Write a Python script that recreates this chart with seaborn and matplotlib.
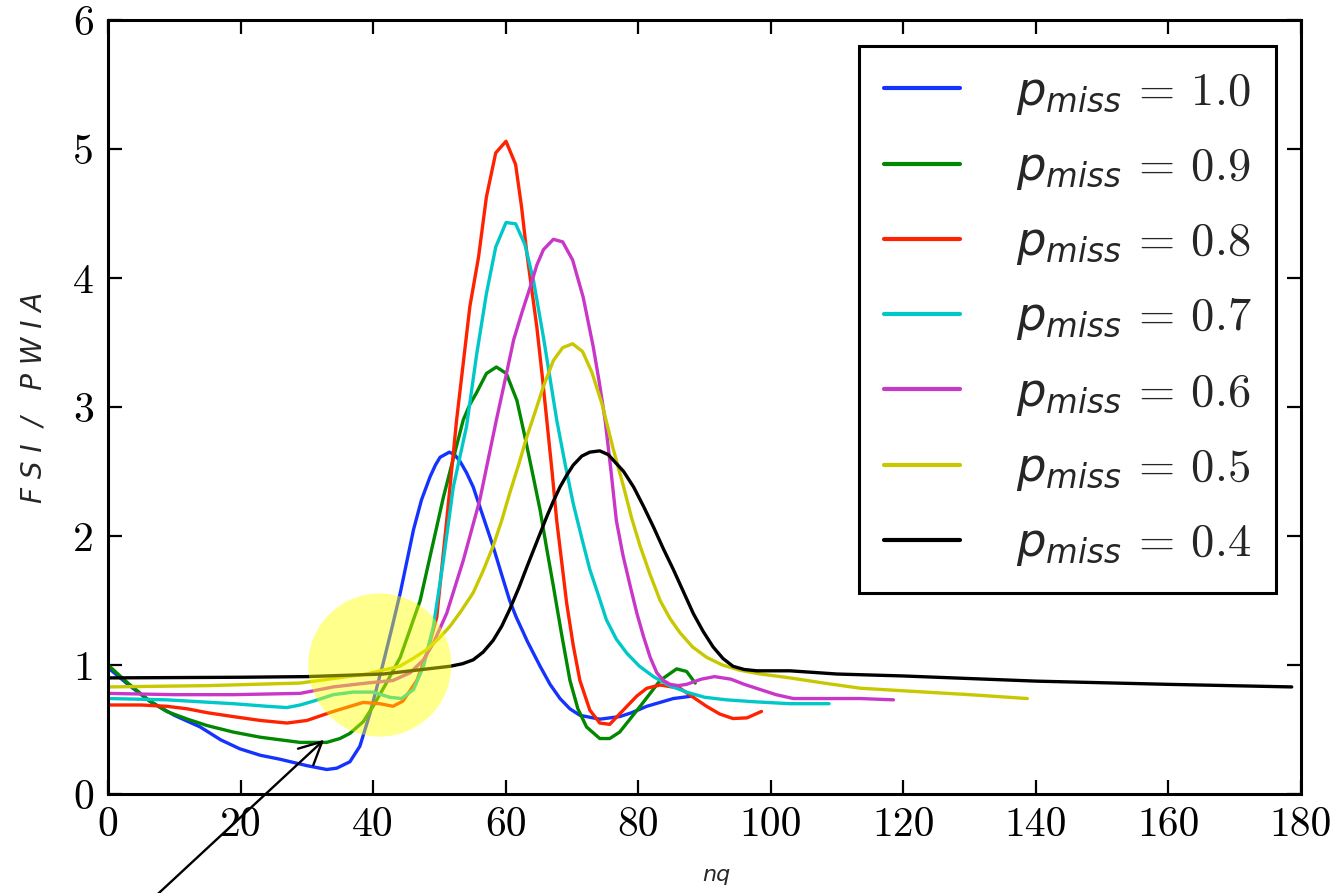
import numpy as np
import pandas as pd
import matplotlib
matplotlib.use("Agg")
import matplotlib.pyplot as plt
from matplotlib.patches import Ellipse
import seaborn as sns

# ---------------- data ----------------
labels = ["1.0", "0.9", "0.8", "0.7", "0.6", "0.5", "0.4"]
colors = ["#1533ff", "#008800", "#ff2200", "#00c8c8", "#c837c8", "#c8c800", "#000000"]

x_10 = [0, 3, 6.3, 10, 13.9, 17, 19.9, 23, 25.9, 30, 33, 34.5, 36.5, 38, 39.5, 41.5, 42.8, 44.1,
        46.1, 47.3, 48.6, 49.4, 50.1, 51.5, 52.3, 53.1, 54.1, 55.1, 56.6, 58.1, 59.4, 60.6, 61.6,
        62.5, 63.3, 64.2, 65.2, 66.7, 68.2, 69.7, 71.2, 74.2, 77.2, 79, 81.3, 83.3, 85.3, 88.3]
y_10 = [0.98, 0.85, 0.72, 0.61, 0.52, 0.42, 0.35, 0.30, 0.27, 0.22, 0.19, 0.20, 0.25, 0.37, 0.62,
        1.01, 1.28, 1.56, 2.05, 2.28, 2.46, 2.55, 2.61, 2.65, 2.63, 2.58, 2.49, 2.38, 2.15, 1.92,
        1.70, 1.50, 1.37, 1.27, 1.18, 1.09, 0.99, 0.85, 0.74, 0.66, 0.61, 0.58, 0.60, 0.63, 0.68,
        0.71, 0.74, 0.76]

x_09 = [0, 3, 6.3, 8.85, 12, 15, 18.9, 23, 26, 29, 33, 35, 36.5, 38.5, 40, 42, 44.1, 47.1, 50.6,
        53.6, 54.6, 55.6, 57.1, 58.6, 60.1, 61.7, 62.9, 64, 65.2, 66.2, 67.2, 68.4, 69.7, 70.9,
        72.2, 74.2, 75.7, 77.2, 80.3, 83.3, 85.8, 87.3, 88.6]
y_09 = [1.00, 0.86, 0.72, 0.64, 0.58, 0.53, 0.48, 0.44, 0.42, 0.40, 0.40, 0.43, 0.47, 0.56, 0.68,
        0.86, 1.06, 1.50, 2.30, 2.90, 3.02, 3.11, 3.26, 3.31, 3.26, 3.05, 2.77, 2.50, 2.20, 1.90,
        1.61, 1.25, 0.88, 0.66, 0.52, 0.43, 0.43, 0.48, 0.68, 0.88, 0.97, 0.95, 0.86]

x_08 = [0, 5, 8.85, 12, 15, 18.9, 23, 27, 30, 34, 38.5, 41, 43, 44.5, 46.6, 48.1, 49.6, 51.1, 52.6,
        54.6, 55.9, 57.1, 58.5, 60.05, 61.5, 62.4, 63.2, 64.7, 65.5, 66.2, 67, 67.7, 68.5, 69.2,
        70.2, 71.2, 72.7, 74.2, 75.7, 78.3, 79.8, 81.3, 83.3, 86.3, 88.3, 90.3, 92.3, 94.3, 96.4,
        98.6]
y_08 = [0.69, 0.69, 0.68, 0.66, 0.63, 0.60, 0.57, 0.55, 0.57, 0.64, 0.71, 0.70, 0.68, 0.72, 0.88,
        1.09, 1.37, 2.12, 2.90, 3.78, 4.16, 4.63, 4.97, 5.06, 4.88, 4.55, 4.19, 3.62, 3.25, 2.90,
        2.50, 2.12, 1.78, 1.48, 1.15, 0.88, 0.65, 0.55, 0.54, 0.68, 0.76, 0.82, 0.845, 0.82, 0.75,
        0.68, 0.62, 0.585, 0.59, 0.64]

x_07 = [0, 8.85, 18.9, 24, 27, 29, 31, 34, 37, 40, 42.5, 44.3, 46.1, 47.6, 49.1, 50.6, 52.1, 54.1,
        55.6, 57.1, 58.5, 60.05, 61.5, 62.9, 64.2, 65.7, 67.7, 69, 70.2, 71.5, 72.7, 74, 75.2, 76.7,
        78.3, 80.2, 82.3, 84.7, 87.3, 90, 93.3, 97.5, 102.9, 108.8]
y_07 = [0.74, 0.73, 0.70, 0.68, 0.67, 0.69, 0.72, 0.77, 0.79, 0.79, 0.75, 0.74, 0.81, 0.99, 1.30,
        1.81, 2.38, 2.85, 3.40, 3.88, 4.24, 4.43, 4.42, 4.26, 3.98, 3.54, 2.90, 2.55, 2.25, 1.98,
        1.74, 1.54, 1.35, 1.20, 1.09, 0.99, 0.91, 0.84, 0.79, 0.75, 0.73, 0.715, 0.70, 0.70]

x_06 = [0, 10, 18.9, 29, 34, 39, 43, 45.6, 47.6, 49.1, 51.1, 53.6, 56.1, 58.6, 60, 61.2, 62.5, 63.7,
        64.7, 65.7, 67.2, 68.6, 70.1, 71.7, 73.2, 74.1, 75, 75.9, 76.7, 77.7, 78.8, 79.8, 80.8,
        81.8, 82.8, 83.8, 84.8, 86, 87.3, 89.5, 91.5, 94, 96, 98.4, 100.8, 103.4, 108, 113.5, 118.5]
y_06 = [0.78, 0.77, 0.77, 0.78, 0.83, 0.86, 0.88, 0.94, 1.04, 1.17, 1.40, 1.81, 2.28, 2.90, 3.23,
        3.52, 3.74, 3.93, 4.10, 4.22, 4.30, 4.28, 4.14, 3.85, 3.47, 3.20, 2.90, 2.50, 2.12, 1.85,
        1.61, 1.40, 1.22, 1.06, 0.94, 0.88, 0.85, 0.84, 0.85, 0.89, 0.91, 0.89, 0.85, 0.81, 0.77,
        0.74, 0.74, 0.74, 0.73]

x_05 = [0, 15, 29, 39, 44, 46, 48.1, 50, 51.6, 53.3, 55.1, 56.6, 58.1, 59.4, 60.6, 62, 63.2, 64.5,
        65.7, 67.2, 68.6, 70.1, 71.6, 73, 74.5, 76.2, 77.8, 79, 80.3, 81.8, 83.3, 84.8, 86.3, 88.2,
        90.3, 92.7, 95.3, 98.5, 102.9, 108, 113.5, 120, 130, 138.7]
y_05 = [0.83, 0.84, 0.86, 0.93, 0.99, 1.05, 1.12, 1.21, 1.30, 1.42, 1.56, 1.73, 1.92, 2.12, 2.33,
        2.56, 2.77, 2.97, 3.16, 3.36, 3.46, 3.49, 3.43, 3.27, 3.03, 2.68, 2.38, 2.14, 1.92, 1.70,
        1.50, 1.36, 1.25, 1.14, 1.06, 1.00, 0.96, 0.93, 0.90, 0.86, 0.82, 0.80, 0.77, 0.74]

x_04 = [0, 20, 30, 41.5, 51.6, 53.5, 55.1, 56.6, 58.1, 59.4, 60.6, 62, 63.2, 64.2, 65.2, 66.2,
        67.2, 68.2, 69.2, 70.2, 71.5, 72.7, 74.2, 75.5, 76.2, 77.8, 79.3, 80.8, 82.3, 83.8, 85.3,
        86.8, 88.3, 89.8, 91.3, 92.8, 94.3, 96, 97.9, 102.9, 110, 120, 140, 160, 178.6]
y_04 = [0.90, 0.905, 0.91, 0.93, 0.99, 1.01, 1.04, 1.10, 1.19, 1.30, 1.43, 1.60, 1.76, 1.89, 2.02,
        2.15, 2.27, 2.38, 2.47, 2.55, 2.62, 2.65, 2.66, 2.63, 2.59, 2.50, 2.38, 2.23, 2.07, 1.90,
        1.74, 1.57, 1.40, 1.26, 1.14, 1.05, 0.99, 0.965, 0.955, 0.955, 0.93, 0.915, 0.875, 0.85,
        0.83]

xs = [x_10, x_09, x_08, x_07, x_06, x_05, x_04]
ys = [y_10, y_09, y_08, y_07, y_06, y_05, y_04]

x_ticks = [0, 20, 40, 60, 80, 100, 120, 140, 160, 180]
y_ticks = [0, 1, 2, 3, 4, 5, 6]

# ---------------- style ----------------
sns.set_style("ticks")
plt.rcParams["font.family"] = ["cmr10", "DejaVu Sans"]
plt.rcParams["axes.formatter.use_mathtext"] = True
plt.rcParams["mathtext.fontset"] = "custom"
plt.rcParams["mathtext.rm"] = "cmr10"
plt.rcParams["mathtext.it"] = "DejaVu Sans:italic"
plt.rcParams["mathtext.bf"] = "DejaVu Sans:bold"
plt.rcParams["mathtext.sf"] = "DejaVu Sans"

fig = plt.figure(figsize=(13.44, 8.93), dpi=100)
ax = fig.add_axes([108 / 1344, 99 / 893, 1193 / 1344, 774 / 893])

for xv, yv, c, lab in zip(xs, ys, colors, labels):
    df = pd.DataFrame({"nq": xv, "ratio": yv})
    sns.lineplot(data=df, x="nq", y="ratio", color=c, lw=2.4, sort=False,
                 estimator=None, ax=ax, label=r"$p_{miss}\,=\,%s$" % lab)

# highlight circle
ax.add_patch(Ellipse((41.0, 1.0), 21.6, 1.11, facecolor="#ffff00", edgecolor="none",
                     alpha=0.45, zorder=5))
# arrow
ax.annotate("", xy=(32.6, 0.42), xytext=(2.8, -1.0),
            arrowprops=dict(arrowstyle="->,head_length=0.6,head_width=0.3", color="k",
                            lw=1.7, mutation_scale=27, shrinkA=0, shrinkB=0),
            annotation_clip=False, zorder=6)

ax.set_xlim(0, 180)
ax.set_ylim(0, 6)
ax.set_xticks(x_ticks)
ax.set_xticklabels([str(v) for v in x_ticks])
ax.set_yticks(y_ticks)
ax.set_yticklabels([str(v) for v in y_ticks])
ax.tick_params(axis="both", direction="in", top=True, right=True, length=10, width=1.6,
               labelsize=30, colors="k")
ax.tick_params(axis="x", pad=9)
ax.tick_params(axis="y", pad=10)
for s in ax.spines.values():
    s.set_linewidth(2.2)
    s.set_color("k")

ax.set_xlabel("nq", fontsize=16, fontstyle="italic", family="DejaVu Sans")
ax.set_ylabel("F S I  /   P W I A", fontsize=20, fontstyle="italic", family="DejaVu Sans")
ax.xaxis.set_label_coords(0.51, -0.092)
ax.yaxis.set_label_coords(-0.051, 0.513)

leg = ax.legend(loc="upper right", bbox_to_anchor=(0.979, 0.966), borderaxespad=0,
                fontsize=33.5, frameon=True, fancybox=False, handlelength=1.65,
                handletextpad=1.2, labelspacing=0.63, borderpad=0.52)
leg.get_frame().set_edgecolor("k")
leg.get_frame().set_linewidth(2.2)
leg.get_frame().set_alpha(1)
for line in leg.get_lines():
    line.set_linewidth(3)

fig.savefig("out.png", dpi=100)
